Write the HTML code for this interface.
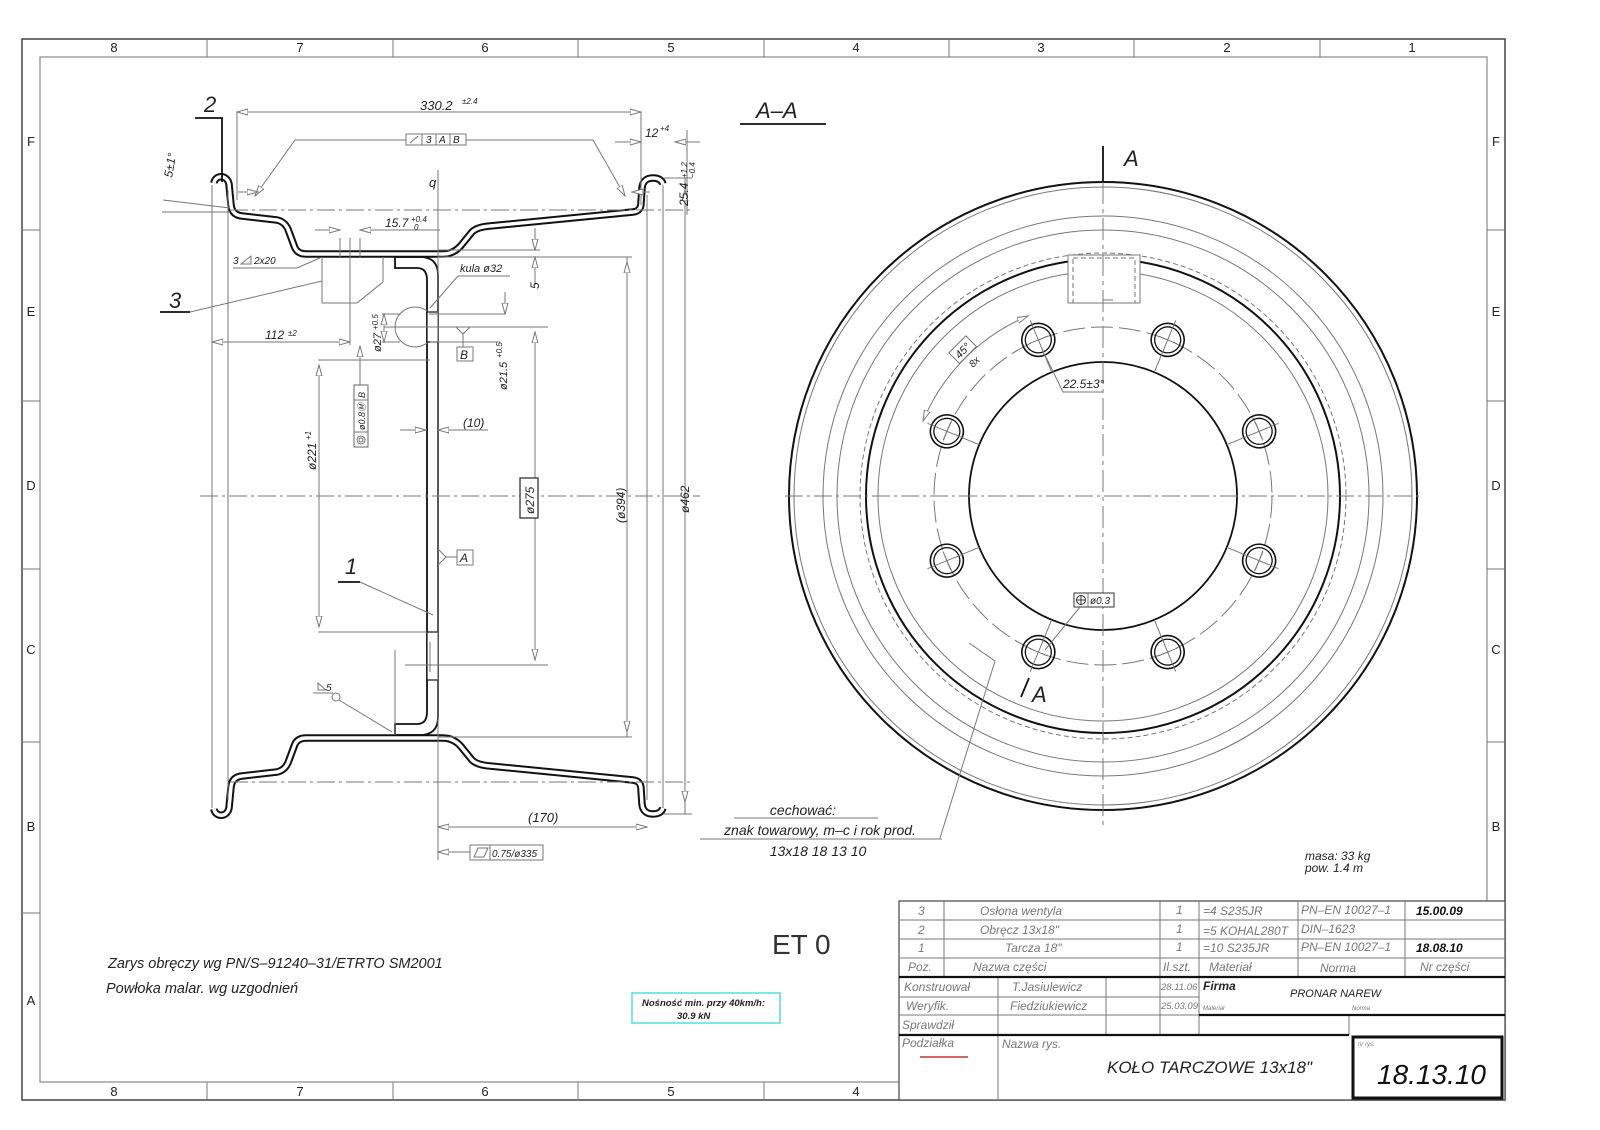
<!DOCTYPE html>
<html><head><meta charset="utf-8"><style>
html,body{margin:0;padding:0;background:#fff}
svg{display:block}
text{font-family:"Liberation Sans",sans-serif;font-style:italic;fill:#222}
.g{stroke:#777;stroke-width:1;fill:none}
.gd{stroke:#777;stroke-width:1;fill:none;stroke-dasharray:18 4 3 4}
.k{stroke:#111;stroke-width:1.8;fill:none}
.t{fill:#777}
</style></head><body>
<svg width="1600" height="1130" viewBox="0 0 1600 1130" xmlns="http://www.w3.org/2000/svg">
<defs>
<marker id="a" markerWidth="12" markerHeight="8" refX="11" refY="4" orient="auto-start-reverse" markerUnits="userSpaceOnUse">
<path d="M0,1 L11,4 L0,7 Z" fill="#fff" stroke="#777" stroke-width="1"/></marker>
</defs>
<rect x="22" y="39" width="1483" height="1061" fill="none" stroke="#444" stroke-width="1.5"/>
<rect x="40" y="57" width="1447" height="1025" fill="none" stroke="#888" stroke-width="1.2"/>
<g class="g">
<path d="M207,39V57M393,39V57M578,39V57M764,39V57M949,39V57M1134,39V57M1320,39V57"/>
<path d="M207,1082V1100M393,1082V1100M578,1082V1100M764,1082V1100"/>
<path d="M22,230H40M22,401H40M22,569H40M22,742H40M22,913H40"/>
<path d="M1487,230H1505M1487,401H1505M1487,569H1505M1487,742H1505M1487,913H1505"/>
</g>
<g style="font-style:normal;font-size:13px" text-anchor="middle">
<text x="114" y="52" style="font-style:normal">8</text><text x="300" y="52" style="font-style:normal">7</text><text x="485" y="52" style="font-style:normal">6</text><text x="671" y="52" style="font-style:normal">5</text><text x="856" y="52" style="font-style:normal">4</text><text x="1041" y="52" style="font-style:normal">3</text><text x="1227" y="52" style="font-style:normal">2</text><text x="1412" y="52" style="font-style:normal">1</text>
<text x="114" y="1096" style="font-style:normal">8</text><text x="300" y="1096" style="font-style:normal">7</text><text x="485" y="1096" style="font-style:normal">6</text><text x="671" y="1096" style="font-style:normal">5</text><text x="856" y="1096" style="font-style:normal">4</text>
<text x="31" y="146" style="font-style:normal">F</text><text x="31" y="316" style="font-style:normal">E</text><text x="31" y="490" style="font-style:normal">D</text><text x="31" y="654" style="font-style:normal">C</text><text x="31" y="831" style="font-style:normal">B</text><text x="31" y="1005" style="font-style:normal">A</text>
<text x="1496" y="146" style="font-style:normal">F</text><text x="1496" y="316" style="font-style:normal">E</text><text x="1496" y="490" style="font-style:normal">D</text><text x="1496" y="654" style="font-style:normal">C</text><text x="1496" y="831" style="font-style:normal">B</text>
</g>

<g id="rim">
<path d="M214,183 C215,175 227,174 229,184 L231,205 Q232,215 242,216 L277,220 Q286,222 289,232 L295,248 Q298,254 306,254 L443,254 Q455,254 463,243 L472,232 Q477,227 490,226 L633,212 Q641,211 641,203 L642,188 Q643,178 653,178 Q661,178 663,184" fill="none" stroke="#111" stroke-width="7.5" stroke-linejoin="round"/>
<path d="M214,183 C215,175 227,174 229,184 L231,205 Q232,215 242,216 L277,220 Q286,222 289,232 L295,248 Q298,254 306,254 L443,254 Q455,254 463,243 L472,232 Q477,227 490,226 L633,212 Q641,211 641,203 L642,188 Q643,178 653,178 Q661,178 663,184" fill="none" stroke="#fff" stroke-width="3.5" stroke-linejoin="round"/>
</g>
<use href="#rim" transform="matrix(1,0,0,-1,0,992)"/>
<g id="disc">
<path class="k" d="M395,257 H420 Q438,257 438,275 V496"/>
<path class="k" d="M395,257 V268 H417 Q427,268 427,280 V496"/>
</g>
<use href="#disc" transform="matrix(1,0,0,-1,0,992)"/>
<circle cx="415" cy="327" r="20" class="g"/>
<rect x="427" y="312" width="11" height="30" fill="#fff" stroke="#111" stroke-width="1.2"/>
<rect x="427" y="632" width="11" height="48" fill="#fff" stroke="#111" stroke-width="1.2"/>
<path class="g" d="M430,642V672"/>
<path d="M438,280V715" stroke="#777" stroke-dasharray="6 3" fill="none"/>
<path class="g" d="M322,257V303H357L383,282V257"/>
<path class="g" d="M350,238V320M340,238V257M360,238V257"/>
<path class="gd" d="M200,496H700"/>
<path class="gd" d="M230,210H690M230,782H690"/>
<path class="g" d="M438,170V860"/>
<path class="g" d="M212,185V808M228,190V800M647,195V800M663,185V808M627,257V737M685,178V814"/>
<path class="g" d="M237,112V200M641,112V205M663,178H692M663,814H692M438,257H632M438,737H632"/>
<path class="g" d="M438,250H540M384,327H548M429,314H505M430,342H500M318,360H430M318,632H427M405,665H548"/>
<path class="g" marker-start="url(#a)" marker-end="url(#a)" d="M237,112H641"/>
<text x="420" y="110" font-size="13">330.2</text><text x="462" y="104" font-size="8">±2.4</text>
<path class="g" marker-end="url(#a)" d="M615,142H641"/><path class="g" marker-end="url(#a)" d="M700,142H675"/>
<text x="645" y="137" font-size="12">12</text><text x="660" y="131" font-size="8">+4</text>
<path class="g" marker-start="url(#a)" marker-end="url(#a)" d="M685,190V802"/>
<path class="g" marker-start="url(#a)" marker-end="url(#a)" d="M627,262V732"/>
<path class="g" marker-start="url(#a)" marker-end="url(#a)" d="M535,332V660"/>
<path class="g" marker-start="url(#a)" marker-end="url(#a)" d="M319,365V627"/>
<path class="g" marker-end="url(#a)" d="M360,400V346"/>
<path class="g" d="M687,130V215"/>
<text transform="translate(688,206) rotate(-90)" font-size="12">25.4</text>
<text transform="translate(687,178) rotate(-90)" font-size="8">+1.2</text>
<text transform="translate(695,178) rotate(-90)" font-size="8">−0.4</text>
<rect x="406" y="134" width="60" height="11" fill="#fff" stroke="#777"/>
<path class="g" d="M422,134V145M436,134V145M450,134V145M410,143L418,136"/>
<text x="426" y="143" font-size="10">3</text><text x="439" y="143" font-size="10">A</text><text x="453" y="143" font-size="10">B</text>
<path class="g" marker-end="url(#a)" d="M406,140H295L255,196"/>
<path class="g" marker-end="url(#a)" d="M466,140H593L625,196"/>
<path class="g" marker-end="url(#a)" d="M238,192H258"/><path class="g" marker-end="url(#a)" d="M650,192H632"/>
<text x="429" y="187" font-size="13">q</text>
<text transform="translate(172,178) rotate(-80)" font-size="12">5±1°</text>
<path class="g" d="M163,200L230,208M162,212H230"/>
<text x="204" y="112" font-size="22">2</text><path class="k" d="M195,118H222V182" stroke-width="1.3"/>
<text x="169" y="308" font-size="22">3</text><path class="k" d="M160,312H190" stroke-width="1.3"/><path class="g" d="M190,312L322,281"/>
<text x="345" y="574" font-size="22">1</text><path class="k" d="M338,582H360" stroke-width="1.3"/><path class="g" d="M360,582L433,615"/>
<path class="g" marker-end="url(#a)" d="M315,230H340"/><path class="g" marker-end="url(#a)" d="M390,230H360"/>
<path class="g" d="M390,230H440"/>
<text x="385" y="227" font-size="12">15.7</text><text x="411" y="222" font-size="8">+0.4</text><text x="414" y="230" font-size="8">0</text>
<text x="233" y="264" font-size="10">3</text><path class="g" d="M241,264L251,256V264Z"/><text x="254" y="264" font-size="10">2x20</text>
<path class="g" d="M233,268H297L320,258"/>
<text x="460" y="272" font-size="11">kula ø32</text><path class="g" d="M458,276H510M458,276L430,308"/>
<path class="g" marker-end="url(#a)" d="M535,228V250"/><path class="g" marker-end="url(#a)" d="M535,285V257"/>
<text transform="translate(539,289) rotate(-90)" font-size="12">5</text>
<path class="g" marker-end="url(#a)" d="M505,292V314"/>
<path class="g" marker-start="url(#a)" marker-end="url(#a)" d="M212,342H350"/>
<path class="g" d="M350,320V345"/>
<text x="265" y="339" font-size="12">112</text><text x="288" y="336" font-size="8">±2</text>
<path class="g" marker-start="url(#a)" marker-end="url(#a)" d="M384,314V342"/>
<path class="g" d="M382,314H400M382,342H400"/>
<text transform="translate(381,352) rotate(-90)" font-size="11">ø27</text>
<text transform="translate(378,330) rotate(-90)" font-size="8">+0.5</text>
<path class="g" d="M456,327L463,334L470,327M463,334V347"/>
<rect x="457" y="347" width="16" height="14" fill="#fff" stroke="#777"/><text x="460" y="359" font-size="12">B</text>
<text transform="translate(507,390) rotate(-90)" font-size="11">ø21.5</text>
<text transform="translate(502,358) rotate(-90)" font-size="8">+0.5</text>
<rect x="354" y="385" width="14" height="62" fill="#fff" stroke="#666"/>
<path class="g" d="M354,400H368M354,432H368"/>
<text transform="translate(365,398) rotate(-90)" font-size="9">B</text>
<text transform="translate(365,430) rotate(-90)" font-size="9">ø0.8Ⓜ</text>
<circle cx="361" cy="440" r="4" class="g"/><circle cx="361" cy="440" r="2" class="g"/>
<path class="g" marker-end="url(#a)" d="M400,430H426"/><path class="g" marker-end="url(#a)" d="M486,430H438"/>
<text x="463" y="427" font-size="12">(10)</text><path class="g" d="M460,430H488"/>
<text transform="translate(316,470) rotate(-90)" font-size="12">ø221</text>
<text transform="translate(311,440) rotate(-90)" font-size="8">+1</text>
<rect x="520" y="478" width="18" height="40" fill="#fff" stroke="#333" stroke-width="1.3"/>
<text transform="translate(534,514) rotate(-90)" font-size="12">ø275</text>
<text transform="translate(625,523) rotate(-90)" font-size="12">(ø394)</text>
<text transform="translate(689,513) rotate(-90)" font-size="12">ø462</text>
<path class="g" d="M438,549L446,557L438,565M446,557H457"/>
<rect x="457" y="550" width="16" height="15" fill="#fff" stroke="#777"/><text x="460" y="562" font-size="12">A</text>
<path class="g" d="M313,693H333M318,683L326,690H318Z"/><text x="326" y="691" font-size="10">5</text>
<circle cx="336" cy="697" r="4" class="g"/><path class="g" d="M339,700L392,732"/>
<path class="g" d="M395,650V735"/>
<path class="g" marker-start="url(#a)" marker-end="url(#a)" d="M438,827H647"/>
<text x="528" y="822" font-size="13">(170)</text>
<path class="g" marker-end="url(#a)" d="M470,852H438"/>
<rect x="470" y="845" width="73" height="15" fill="#fff" stroke="#777"/>
<path class="g" d="M490,845V860M474,857L478,848H488L484,857Z"/>
<text x="492" y="857" font-size="10">0.75/ø335</text>

<text x="756" y="118" font-size="22">A–A</text><path class="k" d="M740,124H826" stroke-width="1.3"/>

<g fill="none">
<circle cx="1103" cy="496" r="314" stroke="#111" stroke-width="2"/>
<circle cx="1103" cy="496" r="309" stroke="#777"/>
<circle cx="1103" cy="496" r="280" stroke="#777"/>
<circle cx="1103" cy="496" r="266" stroke="#777"/>
<circle cx="1103" cy="496" r="243" stroke="#777" stroke-dasharray="5 3"/>
<circle cx="1103" cy="496" r="237" stroke="#111" stroke-width="2"/>
<circle cx="1103" cy="496" r="225" stroke="#777"/>
<circle cx="1103" cy="496" r="169" stroke="#777" stroke-dasharray="22 6"/>
<circle cx="1103" cy="496" r="134" stroke="#111" stroke-width="1.8"/>
</g>
<rect x="1068" y="255" width="72" height="48" fill="#fff" stroke="#777"/>
<rect x="1073" y="258" width="62" height="45" fill="none" stroke="#777" stroke-dasharray="5 3"/>
<path class="gd" d="M785,496H1422"/>
<path class="g" d="M1103,146V830" stroke-dasharray="22 5 4 5"/>
<path class="k" d="M1103,146V182"/>
<path class="g" d="M1103,300H1113" stroke="#111"/>
<text x="1124" y="166" font-size="22">A</text>
<path class="k" d="M1021,697L1029,678" stroke-width="1.3"/>
<text x="1032" y="702" font-size="22">A</text>
<g>
<g transform="rotate(22.5 1103 496)"><circle cx="1103" cy="327" r="16.5" fill="none" stroke="#111" stroke-width="1.6"/><circle cx="1103" cy="327" r="13" fill="none" stroke="#111" stroke-width="1.3"/><path class="g" d="M1103,306V362M1093,327H1113"/></g>
<g transform="rotate(67.5 1103 496)"><circle cx="1103" cy="327" r="16.5" fill="none" stroke="#111" stroke-width="1.6"/><circle cx="1103" cy="327" r="13" fill="none" stroke="#111" stroke-width="1.3"/><path class="g" d="M1103,306V362M1093,327H1113"/></g>
<g transform="rotate(112.5 1103 496)"><circle cx="1103" cy="327" r="16.5" fill="none" stroke="#111" stroke-width="1.6"/><circle cx="1103" cy="327" r="13" fill="none" stroke="#111" stroke-width="1.3"/><path class="g" d="M1103,306V362M1093,327H1113"/></g>
<g transform="rotate(157.5 1103 496)"><circle cx="1103" cy="327" r="16.5" fill="none" stroke="#111" stroke-width="1.6"/><circle cx="1103" cy="327" r="13" fill="none" stroke="#111" stroke-width="1.3"/><path class="g" d="M1103,306V362M1093,327H1113"/></g>
<g transform="rotate(202.5 1103 496)"><circle cx="1103" cy="327" r="16.5" fill="none" stroke="#111" stroke-width="1.6"/><circle cx="1103" cy="327" r="13" fill="none" stroke="#111" stroke-width="1.3"/><path class="g" d="M1103,306V362M1093,327H1113"/></g>
<g transform="rotate(247.5 1103 496)"><circle cx="1103" cy="327" r="16.5" fill="none" stroke="#111" stroke-width="1.6"/><circle cx="1103" cy="327" r="13" fill="none" stroke="#111" stroke-width="1.3"/><path class="g" d="M1103,306V362M1093,327H1113"/></g>
<g transform="rotate(292.5 1103 496)"><circle cx="1103" cy="327" r="16.5" fill="none" stroke="#111" stroke-width="1.6"/><circle cx="1103" cy="327" r="13" fill="none" stroke="#111" stroke-width="1.3"/><path class="g" d="M1103,306V362M1093,327H1113"/></g>
<g transform="rotate(337.5 1103 496)"><circle cx="1103" cy="327" r="16.5" fill="none" stroke="#111" stroke-width="1.6"/><circle cx="1103" cy="327" r="13" fill="none" stroke="#111" stroke-width="1.3"/><path class="g" d="M1103,306V362M1093,327H1113"/></g>
</g>
<path class="g" marker-start="url(#a)" marker-end="url(#a)" d="M1028,316 A195,195 0 0 0 923,421"/>
<g transform="translate(963,350) rotate(-45)"><rect x="-12" y="-8" width="24" height="15" fill="#fff" stroke="#777"/><text x="-9" y="4" font-size="11">45°</text></g>
<text transform="translate(973,368) rotate(-45)" font-size="10">8x</text>
<path class="g" d="M1045,355L1063,392H1103"/>
<text x="1063" y="388" font-size="12">22.5±3°</text>
<rect x="1074" y="593" width="40" height="14" fill="#fff" stroke="#333"/>
<path class="g" d="M1088,593V607"/><circle cx="1081" cy="600" r="4.5" fill="none" stroke="#333"/><path d="M1076,600H1086M1081,595V605" stroke="#333"/>
<text x="1090" y="604" font-size="10">ø0.3</text>
<path class="g" d="M1080,607L1045,650"/>
<path class="g" d="M969,643L995,661L940,838"/>

<text x="803" y="815" font-size="14" text-anchor="middle">cechować:</text>
<path class="g" d="M734,818H878"/>
<text x="820" y="835" font-size="14" text-anchor="middle">znak towarowy, m–c i rok prod.</text>
<path class="g" d="M700,839H942"/>
<text x="818" y="856" font-size="14" text-anchor="middle">13x18   18 13 10</text>
<text x="1305" y="860" font-size="12">masa:  33 kg</text>
<text x="1305" y="872" font-size="12">pow.  1.4 m</text>
<text x="772" y="954" font-size="28" style="font-style:normal;font-weight:100;fill:#333">ET 0</text>
<text x="108" y="968" font-size="14.5">Zarys obręczy wg PN/S–91240–31/ETRTO SM2001</text>
<text x="106" y="993" font-size="14.5">Powłoka malar. wg uzgodnień</text>
<rect x="632" y="993" width="148" height="30" fill="none" stroke="#5dd" stroke-width="1.5"/>
<text x="642" y="1006" font-size="9.5" font-weight="bold">Nośność min. przy 40km/h:</text>
<text x="677" y="1019" font-size="9.5" font-weight="bold">30.9 kN</text>

<g class="g" stroke="#666">
<rect x="899" y="901" width="606" height="199" fill="#fff" stroke="#444" stroke-width="1.2"/>
<path d="M899,920H1505M899,939H1505M899,958H1505"/>
<path d="M944,901V977M1160,901V1035M1199,901V1035M1298,901V977M1405,901V977"/>
<path d="M998,977V1100M1106,977V1035M899,997H1199M899,1015H1199M1349,1015V1035"/>
</g>
<path d="M899,977H1505M1199,1015H1505M899,1035H1349" stroke="#111" stroke-width="2.2"/>
<rect x="1353" y="1037" width="149" height="61" fill="none" stroke="#111" stroke-width="3"/>
<g font-size="12" class="t">
<text x="918" y="915" class="t">3</text><text x="980" y="915" class="t">Osłona wentyla</text><text x="1176" y="914" class="t">1</text><text x="1203" y="915" class="t">=4  S235JR</text><text x="1301" y="914" class="t">PN–EN 10027–1</text>
<text x="918" y="934" class="t">2</text><text x="980" y="934" class="t">Obręcz 13x18"</text><text x="1176" y="933" class="t">1</text><text x="1203" y="935" class="t">=5  KOHAL280T</text><text x="1301" y="933" class="t">DIN–1623</text>
<text x="918" y="952" class="t">1</text><text x="1005" y="952" class="t">Tarcza 18"</text><text x="1176" y="951" class="t">1</text><text x="1203" y="952" class="t">=10  S235JR</text><text x="1301" y="951" class="t">PN–EN 10027–1</text>
<text x="908" y="971" class="t">Poz.</text><text x="973" y="971" class="t">Nazwa części</text><text x="1163" y="971" class="t">Il.szt.</text><text x="1209" y="971" class="t">Materiał</text><text x="1320" y="972" class="t">Norma</text><text x="1420" y="971" class="t">Nr części</text>
<text x="904" y="991" class="t">Konstruował</text><text x="1012" y="991" class="t">T.Jasiulewicz</text><text x="1161" y="990" font-size="9.5" class="t">28.11.06</text>
<text x="906" y="1010" class="t">Weryfik.</text><text x="1010" y="1010" class="t">Fiedziukiewicz</text><text x="1161" y="1009" font-size="9.5" class="t">25.03.09</text>
<text x="902" y="1029" class="t">Sprawdził</text>
<text x="902" y="1047" class="t">Podziałka</text><text x="1002" y="1048" class="t">Nazwa rys.</text>
</g>
<text x="1416" y="915" font-size="12" style="font-weight:bold;fill:#111">15.00.09</text>
<text x="1416" y="952" font-size="12" style="font-weight:bold;fill:#111">18.08.10</text>
<text x="1203" y="990" font-size="12" font-weight="bold">Firma</text>
<text x="1290" y="997" font-size="11">PRONAR NAREW</text>
<text x="1203" y="1010" font-size="6" class="t">Materiał</text>
<text x="1352" y="1010" font-size="6" class="t">Norma</text>
<text x="1358" y="1046" font-size="6" class="t">nr rys.</text>
<path d="M920,1057H968" stroke="#c33" stroke-width="1.5"/>
<text x="1107" y="1073" font-size="17" style="fill:#222">KOŁO TARCZOWE 13x18"</text>
<text x="1377" y="1084" font-size="28" style="fill:#111">18.13.10</text>
</svg>
</body></html>
